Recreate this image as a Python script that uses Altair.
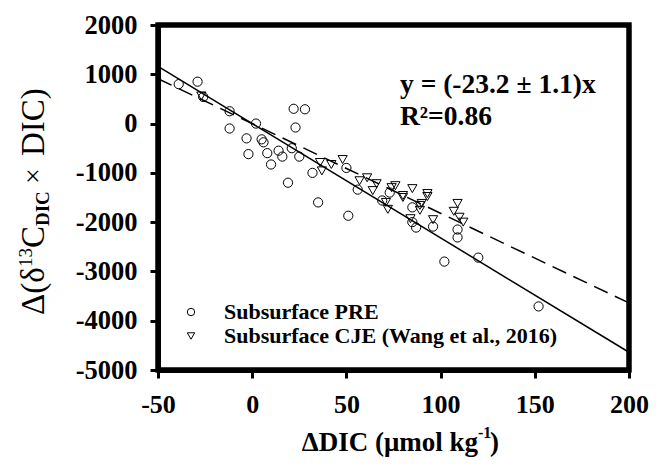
import altair as alt
import pandas as pd

# ---- data ----
series_names = ["Subsurface PRE", "Subsurface CJE (Wang et al., 2016)"]

pre_x = [-39, -29, -26, -12, -12, 2, -3, 5, 6, -2, 8, 10, 14, 16, 19, 21, 22, 28,
         23, 25, 32, 35, 50, 51, 56, 69, 73, 85, 85, 87, 96, 109, 109, 102, 120, 152]
pre_y = [800, 850, 540, 250, -100, 0, -300, -320, -380, -620, -600, -830, -550, -670,
         -1200, -500, 300, 290, -80, -670, -1000, -1600, -900, -1870, -1340, -1560,
         -1400, -1700, -2000, -2110, -2090, -2150, -2310, -2800, -2720, -3710]

cje_x = [-27, 36, 37, 42, 48, 57, 61, 66, 64, 71, 72, 74, 76, 80, 80, 85, 84, 89,
         89, 90, 93, 93, 96, 107, 109, 110, 112]
cje_y = [560, -790, -960, -830, -730, -1160, -1100, -1220, -1360, -1600, -1740, -1300,
         -1260, -1460, -1500, -1320, -1930, -1660, -1760, -1620, -1420, -1480, -1950,
         -1780, -1620, -1900, -2000]

x_ticks = [-50, 0, 50, 100, 150, 200]
y_ticks = [-5000, -4000, -3000, -2000, -1000, 0, 1000, 2000]
x_domain = [-50, 200]
y_domain = [-5000, 2000]

solid_slope = -23.2   # PRE fit
dashed_slope = -18.2  # CJE fit
line_x = [-50, 200]

eq_line1 = "y = (-23.2 ± 1.1)x"
eq_line2 = "R²=0.86"

# ---- tables ----
points_df = pd.DataFrame({
    "x": pre_x + cje_x,
    "y": pre_y + cje_y,
    "series": [series_names[0]] * len(pre_x) + [series_names[1]] * len(cje_x),
})
solid_df = pd.DataFrame({"x": line_x, "y": [solid_slope * v for v in line_x]})
dashed_df = pd.DataFrame({"x": line_x, "y": [dashed_slope * v for v in line_x]})

x0, x1 = x_domain
y0, y1 = y_domain
# closed path around the plotting area (corners taken from the axis domains)
box_df = pd.DataFrame({
    "x": [x0, x1, x1, x0, x0],
    "y": [y1, y1, y0, y0, y1],
    "k": [0, 1, 2, 3, 4],
})

FONT = "Liberation Serif"
PLOT_LEFT = 158
PLOT_TOP = 25
W, H = 471, 345

xscale = alt.Scale(domain=x_domain, nice=False, zero=False)
yscale = alt.Scale(domain=y_domain, nice=False, zero=False)

common_axis = dict(
    title=None, grid=False, domain=True, domainWidth=5, domainColor="black",
    ticks=True, tickSize=8, tickWidth=3,
    tickColor="black", labelFont=FONT, labelFontWeight="bold", labelColor="black",
    labelPadding=13, labelFlush=False, labelOverlap=False,
    labelExpr="'' + datum.value",
)

xenc = alt.X("x:Q", scale=xscale, axis=alt.Axis(values=x_ticks, labelFontSize=26, **common_axis))
yenc = alt.Y("y:Q", scale=yscale, axis=alt.Axis(values=y_ticks, labelFontSize=26.5, **common_axis))

box = alt.Chart(box_df).mark_line(
    color="black", strokeWidth=5, strokeJoin="miter", strokeCap="square", clip=False
).encode(x=xenc, y=yenc, order="k:Q")

solid = alt.Chart(solid_df).mark_line(color="black", strokeWidth=1.5).encode(x=xenc, y=yenc)
dashed = alt.Chart(dashed_df).mark_line(color="black", strokeWidth=1.5, strokeDash=[15, 8]).encode(x=xenc, y=yenc)

points = alt.Chart(points_df).mark_point(filled=False, color="black", size=85, strokeWidth=1, opacity=1).encode(
    x=xenc, y=yenc,
    shape=alt.Shape("series:N",
                    scale=alt.Scale(domain=series_names, range=["circle", "triangle-down"]),
                    legend=alt.Legend(title=None, orient="none", legendX=22, legendY=276,
                                      symbolSize=55, symbolStrokeWidth=1, symbolStrokeColor="black",
                                      symbolFillColor="transparent",
                                      labelFont=FONT, labelFontSize=22, labelFontWeight="bold",
                                      labelColor="black", labelOffset=22, rowPadding=2, padding=0,
                                      labelLimit=500)),
)


def txt(s, px, py, size, weight="normal", angle=0, align="left"):
    return alt.Chart(pd.DataFrame({"t": [s]})).mark_text(
        font=FONT, fontSize=size, fontWeight=weight, angle=angle, align=align,
        baseline="alphabetic", color="black",
    ).encode(text="t:N", x=alt.value(px - PLOT_LEFT), y=alt.value(py - PLOT_TOP))


texts = [
    txt(eq_line1, 400, 93, 27.5, "bold"),
    txt(eq_line2, 400, 125, 27.5, "bold"),
    # x title
    txt("ΔDIC (μmol kg", 478, 451, 27, "bold", align="right"),
    txt("-1", 478, 438, 16, "bold"),
    txt(")", 490, 451, 27, "bold"),
    # y title (rotated)
    txt("Δ(δ", 44, 315, 33, "normal", angle=270),
    txt("13", 32, 267, 19, "normal", angle=270),
    txt("C", 44, 248, 33, "normal", angle=270),
    txt("DIC", 49, 226, 19, "bold", angle=270),
    txt("×", 42, 184, 28, "normal", angle=270),
    txt("DIC)", 44, 156, 33, "normal", angle=270),
]

chart = alt.layer(box, solid, dashed, points, *texts).properties(
    width=W, height=H,
    background="white",
    autosize=alt.AutoSizeParams(type="none"),
    padding={"left": 150, "top": 17, "right": 21, "bottom": 89},
).configure_view(stroke="black", strokeWidth=5)

chart.save("out.html", embed_options={"renderer": "svg", "actions": False})
